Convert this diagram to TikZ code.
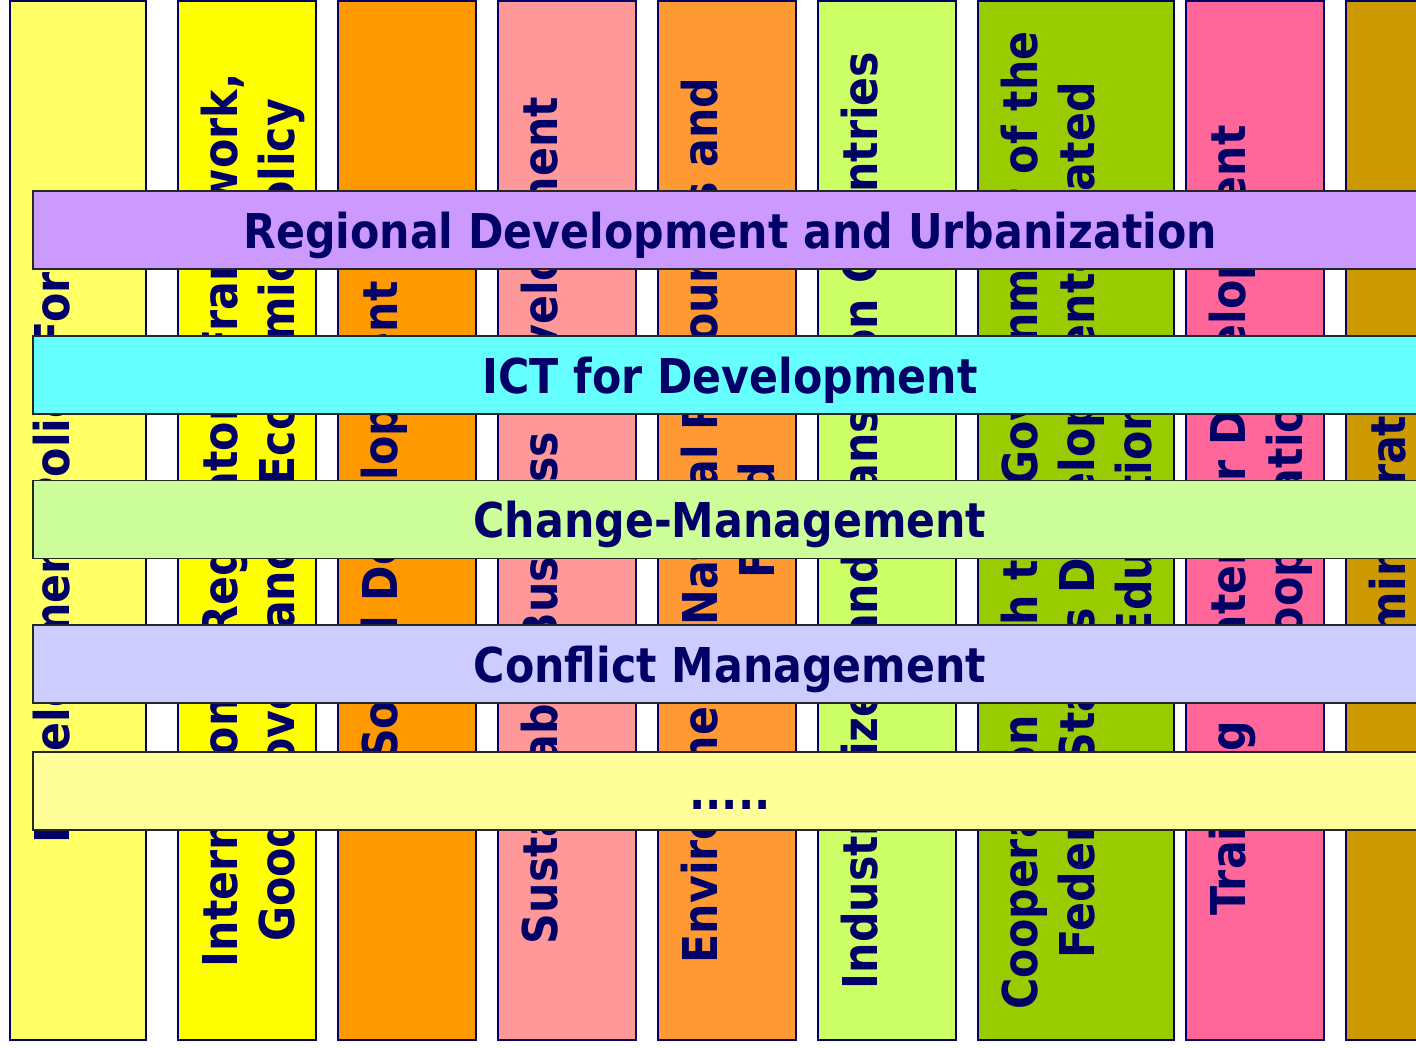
\documentclass[tikz,border=0pt]{standalone}
\usepackage{fontspec}
\setmainfont{DejaVu Sans}[FakeStretch=0.89]
\definecolor{txt}{HTML}{000066}
\definecolor{cA}{HTML}{FFFF66}
\definecolor{cB}{HTML}{FFFF00}
\definecolor{cC}{HTML}{FF9900}
\definecolor{cD}{HTML}{FF9999}
\definecolor{cE}{HTML}{FF9933}
\definecolor{cF}{HTML}{CCFF66}
\definecolor{cG}{HTML}{99CC00}
\definecolor{cH}{HTML}{FF6699}
\definecolor{cI}{HTML}{CC9900}
\definecolor{bA}{HTML}{CC99FF}
\definecolor{bB}{HTML}{66FFFF}
\definecolor{bC}{HTML}{CCFF99}
\definecolor{bD}{HTML}{CCCCFF}
\definecolor{bE}{HTML}{FFFF99}
\tikzset{
  colbox/.style={draw=txt, line width=1.6pt, rectangle, inner sep=0pt, minimum height=1039},
  coltext/.style={rotate=90, anchor=north, inner sep=0pt, align=center, text=txt,
    font=\bfseries\fontsize{48}{57}\selectfont},
  bandbox/.style={draw=black!85, line width=1.6pt, rectangle, inner sep=0pt, minimum width=1394, minimum height=78},
  bandtext/.style={anchor=base, inner sep=0pt, text=txt, font=\bfseries\fontsize{48}{57}\selectfont}
}
\begin{document}
\begin{tikzpicture}[x=1pt, y=-1pt]
\useasboundingbox (0,0) rectangle (1416,1047);
\clip (0,0) rectangle (1416,1047);
\fill[white] (0,0) rectangle (1416,1047);
% columns
\node[colbox, fill=cA, minimum width=136] (col1) at (78,520.5) {};
\node[coltext] (t1) at ([xshift=23.5pt]col1.west) {Development Policy Forum};
\node[colbox, fill=cB, minimum width=138] (col2) at (247,520.5) {};
\node[coltext] (t2) at ([xshift=23.5pt]col2.west) {International Regulatory Framework,\\Good Governance, Economic Policy};
\node[colbox, fill=cC, minimum width=138] (col3) at (407,520.5) {};
\node[coltext] (t3) at ([xshift=23.5pt]col3.west) {Social Development};
\node[colbox, fill=cD, minimum width=138] (col4) at (567,520.5) {};
\node[coltext] (t4) at ([xshift=23.5pt]col4.west) {Sustainable Business Development};
\node[colbox, fill=cE, minimum width=138] (col5) at (727,520.5) {};
\node[coltext] (t5) at ([xshift=23.5pt]col5.west) {Environment, Natural Resources and\\Food};
\node[colbox, fill=cF, minimum width=138] (col6) at (887,520.5) {};
\node[coltext] (t6) at ([xshift=23.5pt]col6.west) {Industrialized and Transition Countries};
\node[colbox, fill=cG, minimum width=196] (col7) at (1076,520.5) {};
\node[coltext] (t7) at ([xshift=23.5pt]col7.west) {Cooperation with the Government of the\\Federal States Development-related\\Education};
\node[colbox, fill=cH, minimum width=138] (col8) at (1255,520.5) {};
\node[coltext] (t8) at ([xshift=23.5pt]col8.west) {Training Center for Development\\Cooperation};
\node[colbox, fill=cI, minimum width=138] (col9) at (1415,520.5) {};
\node[coltext] (t9) at ([xshift=23.5pt]col9.west) {Administration};
% bands
\node[bandbox, fill=bA] (b1) at (730,230) {};
\node[bandtext] (bt1) at ([yshift=-18pt]b1.center) {Regional Development and Urbanization};
\node[bandbox, fill=bB] (b2) at (730,375) {};
\node[bandtext] (bt2) at ([yshift=-18pt]b2.center) {ICT for Development};
\node[bandbox, fill=bC] (b3) at (730,519.5) {};
\node[bandtext] (bt3) at ([yshift=-18pt]b3.center) {Change-Management};
\node[bandbox, fill=bD] (b4) at (730,664) {};
\node[bandtext] (bt4) at ([yshift=-18pt]b4.center) {Conflict Management};
\node[bandbox, fill=bE] (b5) at (730,791) {};
\node[bandtext] (bt5) at ([yshift=-18pt]b5.center) {.....};
\end{tikzpicture}
\end{document}
